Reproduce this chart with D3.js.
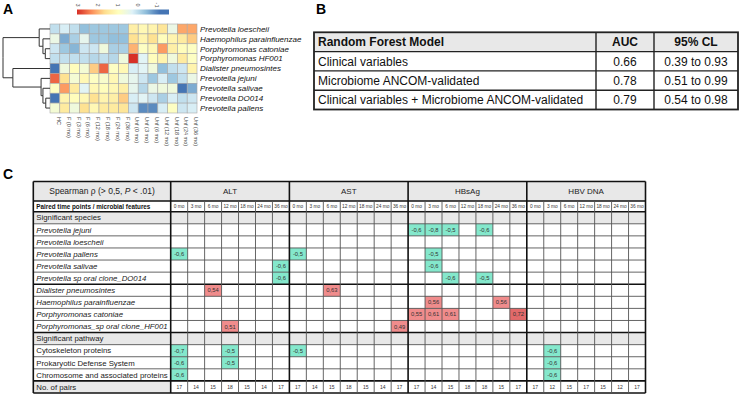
<!DOCTYPE html>
<html>
<head>
<meta charset="utf-8">
<script src="https://cdn.jsdelivr.net/npm/d3@7/dist/d3.min.js"></script>
<style>
  body { margin: 0; background: #fff; }
  svg { font-family: "Liberation Sans", Arial, sans-serif; }
</style>
</head>
<body>
<svg id="fig" width="741" height="395"></svg>
<script>
// ---------- panel A : heatmap ----------
var heatRows = ["Prevotella loescheii", "Haemophilus parainfluenzae", "Porphyromonas catoniae",
  "Porphyromonas HF001", "Dialister pneumosintes", "Prevotella jejuni", "Prevotella salivae",
  "Prevotella DO014", "Prevotella pallens"];
var heatCols = ["HC", "F (0 mo)", "F (3 mo)", "F (6 mo)", "F (12 mo)", "F (18 mo)", "F (24 mo)", "F (36 mo)",
  "Unf (0 mo)", "Unf (3 mo)", "Unf (6 mo)", "Unf (12 mo)", "Unf (18 mo)", "Unf (24 mo)", "Unf (36 mo)"];
var heatValues = [
  [0.0, 0.2, 0.0, -0.4, -0.3, -0.3, -0.3, -0.3, 1.3, 1.1, 1.2, 1.5, 0.5, 2.1, 2.1],
  [0.5, -0.6, -0.2, 0.4, -0.3, -0.3, -0.4, -0.4, 1.6, 1.2, 1.6, 1.0, 1.2, 1.4, 1.8],
  [0.1, -0.3, -0.5, 0.1, 0.1, 0.6, -0.2, -0.2, 2.0, 0.9, 1.1, 2.2, 1.3, 1.0, 0.9],
  [0.0, 0.0, 0.0, 0.0, -0.1, 0.0, -0.1, 0.6, 3.0, 0.3, 1.0, 1.2, 0.6, 1.4, 0.9],
  [-1.2, 0.6, 1.0, 0.7, 1.8, 2.6, 0.9, 1.1, 0.2, 0.3, 0.6, -0.4, 0.0, 0.1, 1.2],
  [2.6, 1.6, 0.7, 1.1, 0.9, 0.8, 1.1, 0.6, 0.4, 0.1, -0.3, 0.2, -0.3, 0.0, 0.5],
  [0.9, 2.2, 1.4, 0.3, 1.1, 1.0, 1.1, 1.3, 0.4, -0.1, 0.5, 0.6, 0.6, -1.4, -0.6],
  [-1.1, 1.2, 1.0, 1.1, 1.6, 1.2, 1.3, 1.8, 0.2, 0.3, 0.1, -0.2, 0.2, 0.0, 0.1],
  [0.7, 1.4, 0.6, 1.6, 1.1, 1.4, 1.4, 1.5, 0.1, -0.9, -0.9, 0.2, 0.9, 0.1, 0.2]
];
var legendTicks = [3, 2, 1, 0, -1];
var paletteColors = ["#d73027", "#fc8d59", "#fee090", "#ffffbf", "#e0f3f8", "#91bfdb", "#4575b4"];
// row clustering (merge heights, leaf = row index)
var dendro = {h: 1, children: [
  {h: 0.23, children: [{leaf: 0}, {h: 0.15, children: [{leaf: 1}, {h: 0.1, children: [{leaf: 2}, {leaf: 3}]}]}]},
  {h: 0.79, children: [{leaf: 4}, {h: 0.19, children: [{leaf: 5}, {h: 0.15, children: [{leaf: 6}, {h: 0.09, children: [{leaf: 7}, {leaf: 8}]}]}]}]}
]};

// ---------- panel B : random forest table ----------
var bHeader = ["Random Forest Model", "AUC", "95% CL"];
var models = ["Clinical variables", "Microbiome ANCOM-validated", "Clinical variables + Microbiome ANCOM-validated"];
var aucValues = ["0.66", "0.78", "0.79"];
var ciValues = ["0.39 to 0.93", "0.51 to 0.99", "0.54 to 0.98"];

// ---------- panel C : spearman table ----------
var markers = ["ALT", "AST", "HBsAg", "HBV DNA"];
var timePoints = ["0 mo", "3 mo", "6 mo", "12 mo", "18 mo", "24 mo", "36 mo"];
var featureRows = ["Significant species", "Prevotella jejuni", "Prevotella loescheii", "Prevotella pallens",
  "Prevotella salivae", "Prevotella sp oral clone_DO014", "Dialister pneumosintes", "Haemophilus parainfluenzae",
  "Porphyromonas catoniae", "Porphyromonas_sp oral clone_HF001", "Significant pathway", "Cytoskeleton proteins",
  "Prokaryotic Defense System", "Chromosome and associated proteins", "No. of pairs"];
var sectionRows = ["Significant species", "Significant pathway"];
var italicRows = ["Prevotella jejuni", "Prevotella loescheii", "Prevotella pallens", "Prevotella salivae",
  "Prevotella sp oral clone_DO014", "Dialister pneumosintes", "Haemophilus parainfluenzae",
  "Porphyromonas catoniae", "Porphyromonas_sp oral clone_HF001"];
var corrCells = [
  ["Prevotella jejuni", "HBsAg", "0 mo", -0.6], ["Prevotella jejuni", "HBsAg", "3 mo", -0.8],
  ["Prevotella jejuni", "HBsAg", "6 mo", -0.5], ["Prevotella jejuni", "HBsAg", "18 mo", -0.6],
  ["Prevotella pallens", "ALT", "0 mo", -0.6], ["Prevotella pallens", "AST", "0 mo", -0.5],
  ["Prevotella pallens", "HBsAg", "3 mo", -0.5],
  ["Prevotella salivae", "ALT", "36 mo", -0.6], ["Prevotella salivae", "HBsAg", "3 mo", -0.6],
  ["Prevotella sp oral clone_DO014", "ALT", "36 mo", -0.6], ["Prevotella sp oral clone_DO014", "HBsAg", "6 mo", -0.6],
  ["Prevotella sp oral clone_DO014", "HBsAg", "18 mo", -0.5],
  ["Dialister pneumosintes", "ALT", "6 mo", 0.54], ["Dialister pneumosintes", "AST", "6 mo", 0.63],
  ["Haemophilus parainfluenzae", "HBsAg", "3 mo", 0.56], ["Haemophilus parainfluenzae", "HBsAg", "24 mo", 0.56],
  ["Porphyromonas catoniae", "HBsAg", "0 mo", 0.55], ["Porphyromonas catoniae", "HBsAg", "3 mo", 0.61],
  ["Porphyromonas catoniae", "HBsAg", "6 mo", 0.61], ["Porphyromonas catoniae", "HBsAg", "36 mo", 0.72],
  ["Porphyromonas_sp oral clone_HF001", "ALT", "12 mo", 0.51], ["Porphyromonas_sp oral clone_HF001", "AST", "36 mo", 0.49],
  ["Cytoskeleton proteins", "ALT", "0 mo", -0.7], ["Cytoskeleton proteins", "ALT", "12 mo", -0.5],
  ["Cytoskeleton proteins", "AST", "0 mo", -0.5], ["Cytoskeleton proteins", "HBV DNA", "3 mo", -0.6],
  ["Prokaryotic Defense System", "ALT", "0 mo", -0.6], ["Prokaryotic Defense System", "ALT", "12 mo", -0.5],
  ["Prokaryotic Defense System", "HBV DNA", "3 mo", -0.6],
  ["Chromosome and associated proteins", "ALT", "0 mo", -0.6], ["Chromosome and associated proteins", "HBV DNA", "3 mo", -0.6]
];
var pairCounts = [
  [17, 14, 15, 18, 15, 14, 17],
  [17, 14, 15, 18, 15, 14, 17],
  [17, 14, 15, 18, 18, 15, 17],
  [17, 12, 15, 17, 15, 12, 17]
];

var svg = d3.select("#fig");

// panel letters
svg.selectAll(".panel").data([["A", 3, 14], ["B", 316, 14], ["C", 3, 179]])
  .enter().append("text")
  .attr("x", function(d) { return d[1]; })
  .attr("y", function(d) { return d[2]; })
  .attr("font-size", 14).attr("font-weight", "bold")
  .text(function(d) { return d[0]; });

// ================= A =================
var hx = d3.scaleBand().domain(heatCols).range([50, 197]);
var hy = d3.scaleBand().domain(heatRows).range([24, 113]);
var legX = d3.scaleLinear().domain([3.05, -1.6]).range([77, 169]);
var heatColor = d3.scaleSequential(d3.piecewise(d3.interpolateRgb, paletteColors))
  .domain([3, -1.1]).clamp(true);

var gA = svg.append("g");
heatValues.forEach(function(row, i) {
  gA.selectAll(".r" + i).data(row).enter().append("rect")
    .attr("x", function(d, j) { return hx(heatCols[j]); })
    .attr("y", hy(heatRows[i]))
    .attr("width", hx.bandwidth())
    .attr("height", hy.bandwidth())
    .attr("fill", function(d) { return heatColor(d); })
    .attr("stroke", "#a8a8a8")
    .attr("stroke-width", 0.6);
});

gA.selectAll(".rowlab").data(heatRows).enter().append("text")
  .attr("x", 200)
  .attr("y", function(d) { return hy(d) + hy.bandwidth() / 2; })
  .attr("dy", "0.35em")
  .attr("font-size", 8).attr("font-style", "italic").attr("fill", "#111")
  .text(function(d) { return d; });

gA.selectAll(".collab").data(heatCols).enter().append("text")
  .attr("transform", function(d) { return "translate(" + (hx(d) + hx.bandwidth() / 2 + 2) + ",117) rotate(90)"; })
  .attr("font-size", 5.5).attr("fill", "#444")
  .text(function(d) { return d; });

// colour key
var defs = svg.append("defs");
var grad = defs.append("linearGradient").attr("id", "key");
d3.range(0, 1.0001, 0.05).forEach(function(t) {
  grad.append("stop").attr("offset", t).attr("stop-color", heatColor(legX.invert(77 + t * 92)));
});
gA.append("rect").attr("x", legX(3.05)).attr("y", 9.5)
  .attr("width", legX(-1.6) - legX(3.05)).attr("height", 5)
  .attr("fill", "url(#key)");
gA.selectAll(".keylab").data(legendTicks).enter().append("text")
  .attr("transform", function(d) { return "translate(" + (legX(d) - 1.8) + ",5) rotate(90)"; })
  .attr("text-anchor", "middle")
  .attr("font-size", 5.5).attr("fill", "#555")
  .text(function(d) { return d; });

// dendrogram
var root = d3.hierarchy(dendro);
var hScale = d3.scaleLinear().domain([0, 1]).range([50, 3]);
root.eachAfter(function(n) {
  if (n.data.leaf !== undefined) {
    n.py = hy(heatRows[n.data.leaf]) + hy.bandwidth() / 2;
    n.px = hScale(0);
  } else {
    n.py = d3.mean(n.children, function(c) { return c.py; });
    n.px = hScale(n.data.h);
  }
});
gA.selectAll(".link").data(root.links()).enter().append("path")
  .attr("d", function(l) {
    return "M" + l.source.px + "," + l.source.py + "V" + l.target.py + "H" + l.target.px;
  })
  .attr("fill", "none").attr("stroke", "#333").attr("stroke-width", 1);

// ================= B =================
var bx = [314, 596, 654, 738];
var by = d3.scaleBand().domain(d3.range(4)).range([32.3, 109.5]);
var gB = svg.append("g");
gB.append("rect").attr("x", bx[0]).attr("y", by(0)).attr("width", bx[3] - bx[0]).attr("height", by.bandwidth())
  .attr("fill", "#e8e8e8");
var bRows = [bHeader].concat(models.map(function(m, i) { return [m, aucValues[i], ciValues[i]]; }));
bRows.forEach(function(r, i) {
  r.forEach(function(txt, j) {
    gB.append("text")
      .attr("x", j === 0 ? bx[0] + 4 : (bx[j] + bx[j + 1]) / 2)
      .attr("y", by(i) + by.bandwidth() / 2)
      .attr("dy", "0.36em")
      .attr("text-anchor", j === 0 ? "start" : "middle")
      .attr("font-size", 12)
      .attr("font-weight", i === 0 ? "bold" : "normal")
      .attr("fill", "#111")
      .text(txt);
  });
});
d3.range(1, 4).forEach(function(i) {
  gB.append("line").attr("x1", bx[0]).attr("x2", bx[3]).attr("y1", by(i)).attr("y2", by(i))
    .attr("stroke", "#222").attr("stroke-width", 1.4);
});
[1, 2].forEach(function(j) {
  gB.append("line").attr("x1", bx[j]).attr("x2", bx[j]).attr("y1", by(0)).attr("y2", 109.5)
    .attr("stroke", "#222").attr("stroke-width", 1.4);
});
gB.append("rect").attr("x", bx[0]).attr("y", by(0)).attr("width", bx[3] - bx[0]).attr("height", 109.5 - by(0))
  .attr("fill", "none").attr("stroke", "#222").attr("stroke-width", 1.8);

// ================= C =================
var colKeys = [];
markers.forEach(function(m) { timePoints.forEach(function(t) { colKeys.push(m + "|" + t); }); });
var labL = 33.3, labR = 170.7, tabR = 645.5;
var cx = d3.scaleBand().domain(colKeys).range([labR, tabR]);
var cy = d3.scaleBand().domain(featureRows).range([211.7, 393]);
var head1 = [181.5, 201], head2 = [201, 211.7];
var gC = svg.append("g");

// grey fills
gC.append("rect").attr("x", labL).attr("y", head1[0]).attr("width", tabR - labL).attr("height", head1[1] - head1[0])
  .attr("fill", "#e8e8e8");
gC.selectAll(".sec").data(sectionRows).enter().append("rect")
  .attr("x", labL).attr("y", function(d) { return cy(d); })
  .attr("width", tabR - labL).attr("height", cy.bandwidth())
  .attr("fill", "#e8e8e8");
gC.append("rect").attr("x", labL).attr("y", cy("No. of pairs")).attr("width", labR - labL).attr("height", cy.bandwidth())
  .attr("fill", "#e8e8e8");

// coloured correlation cells
gC.selectAll(".cell").data(corrCells).enter().append("rect")
  .attr("x", function(d) { return cx(d[1] + "|" + d[2]); })
  .attr("y", function(d) { return cy(d[0]); })
  .attr("width", cx.bandwidth()).attr("height", cy.bandwidth())
  .attr("fill", function(d) { return d[3] < 0 ? "#84e8cc" : (d[3] > 0.7 ? "#e36a6a" : "#f08c8c"); });
gC.selectAll(".cellTxt").data(corrCells).enter().append("text")
  .attr("x", function(d) { return cx(d[1] + "|" + d[2]) + cx.bandwidth() / 2; })
  .attr("y", function(d) { return cy(d[0]) + cy.bandwidth() / 2; })
  .attr("dy", "0.35em").attr("text-anchor", "middle")
  .attr("font-size", 5.8).attr("fill", "#333")
  .text(function(d) { return String(d[3]).replace(".", ","); });

// pair counts
pairCounts.forEach(function(row, i) {
  gC.selectAll(".pc" + i).data(row).enter().append("text")
    .attr("x", function(d, j) { return cx(markers[i] + "|" + timePoints[j]) + cx.bandwidth() / 2; })
    .attr("y", cy("No. of pairs") + cy.bandwidth() / 2)
    .attr("dy", "0.35em").attr("text-anchor", "middle")
    .attr("font-size", 5).attr("fill", "#333")
    .text(function(d) { return d; });
});

// header texts
var h1 = gC.append("text").attr("x", (labL + labR) / 2).attr("y", (head1[0] + head1[1]) / 2)
  .attr("dy", "0.35em").attr("text-anchor", "middle").attr("font-size", 8.5).attr("fill", "#222");
h1.append("tspan").text("Spearman \u03C1 (> 0,5, ");
h1.append("tspan").attr("font-style", "italic").text("P");
h1.append("tspan").text(" < .01)");
gC.selectAll(".mk").data(markers).enter().append("text")
  .attr("x", function(d) { return (cx(d + "|0 mo") + cx(d + "|36 mo") + cx.bandwidth()) / 2; })
  .attr("y", (head1[0] + head1[1]) / 2)
  .attr("dy", "0.35em").attr("text-anchor", "middle").attr("font-size", 8).attr("fill", "#222")
  .text(function(d) { return d; });
gC.append("text").attr("x", labL + 3).attr("y", (head2[0] + head2[1]) / 2)
  .attr("dy", "0.35em").attr("font-size", 6.3).attr("font-weight", "bold").attr("fill", "#111")
  .text("Paired time points / microbial features");
gC.selectAll(".tp").data(colKeys).enter().append("text")
  .attr("x", function(d) { return cx(d) + cx.bandwidth() / 2; })
  .attr("y", (head2[0] + head2[1]) / 2)
  .attr("dy", "0.35em").attr("text-anchor", "middle").attr("font-size", 4.8).attr("fill", "#333")
  .text(function(d) { return d.split("|")[1]; });

// row labels
gC.selectAll(".rl").data(featureRows).enter().append("text")
  .attr("x", labL + 3)
  .attr("y", function(d) { return cy(d) + cy.bandwidth() / 2; })
  .attr("dy", "0.35em").attr("font-size", 7.8).attr("fill", "#222")
  .attr("font-style", function(d) { return italicRows.indexOf(d) >= 0 ? "italic" : "normal"; })
  .text(function(d) { return d; });

// grid lines
var thickRows = ["Significant species", "Dialister pneumosintes", "Significant pathway", "No. of pairs"];
function isThick(d) {
  return d === head1[0] || d === head1[1] || d === 393 ||
    thickRows.some(function(r) { return Math.abs(cy(r) - d) < 0.01; });
}
var hLines = [head1[0], head1[1], head2[1]].concat(featureRows.slice(1).map(function(d) { return cy(d); })).concat([393]);
gC.selectAll(".hl").data(hLines).enter().append("line")
  .attr("x1", labL).attr("x2", tabR)
  .attr("y1", function(d) { return d; }).attr("y2", function(d) { return d; })
  .attr("stroke", function(d) { return isThick(d) ? "#111" : "#555"; })
  .attr("stroke-width", function(d) { return isThick(d) ? 1.6 : 0.9; });
gC.selectAll(".vl").data(colKeys.slice(1)).enter().append("line")
  .attr("x1", function(d) { return cx(d); }).attr("x2", function(d) { return cx(d); })
  .attr("y1", function(d) { return d.split("|")[1] === "0 mo" ? head1[0] : head1[1]; })
  .attr("y2", 393)
  .attr("stroke", function(d) { return d.split("|")[1] === "0 mo" ? "#111" : "#555"; })
  .attr("stroke-width", function(d) { return d.split("|")[1] === "0 mo" ? 1.6 : 0.9; });
[labL, labR, tabR].forEach(function(x) {
  gC.append("line").attr("x1", x).attr("x2", x).attr("y1", head1[0]).attr("y2", 393)
    .attr("stroke", "#111").attr("stroke-width", 1.6);
});
</script>
</body>
</html>
